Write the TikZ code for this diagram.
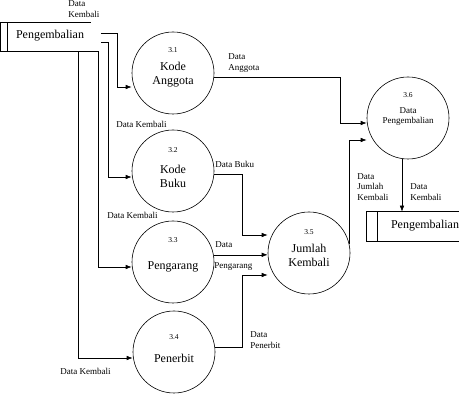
\documentclass[tikz,border=0pt]{standalone}
\usepackage{fontspec}
\setmainfont{Liberation Serif}
\usetikzlibrary{arrows.meta}
\begin{document}
\begin{tikzpicture}[x=1pt,y=-1pt,
  line width=0.6pt,
  proc/.style={circle,draw,minimum size=82pt,inner sep=0pt},
  frame/.style={rectangle,inner sep=0pt},
  num/.style={font=\fontsize{7.5}{8}\selectfont},
  pname/.style={font=\fontsize{12}{14}\selectfont,align=center},
  lbl/.style={font=\fontsize{9}{10.5}\selectfont,align=left,anchor=west,inner sep=0pt},
  flow/.style={-{Latex[length=6pt,width=4.5pt]}}]
\useasboundingbox (0,0) rectangle (459,406);
% stores
\node[frame,minimum width=90pt,minimum height=28pt] (s1) at (45.5,37) {};
\node[font=\fontsize{12}{14}\selectfont] (s1t) at (50,36) {Pengembalian};
\draw (s1.north east) -- (s1.north west) -- (s1.south west) -- (s1.south east);
\draw ([xshift=7pt]s1.north west) -- ([xshift=7pt]s1.south west);
\node[frame,minimum width=92pt,minimum height=29pt] (s2) at (413,226.5) {};
\node[font=\fontsize{12}{14}\selectfont] (s2t) at (425,226) {Pengembalian};
\draw (s2.north east) -- (s2.north west) -- (s2.south west) -- (s2.south east);
\draw ([xshift=11pt]s2.north west) -- ([xshift=11pt]s2.south west);
% processes
\node[proc] (c31) at (173,73) {};
\node[num] at ([yshift=23pt]c31.center) {3.1};
\node[pname] at ([yshift=-2pt]c31.center) {Kode\\Anggota};
\node[proc] (c32) at (173,171) {};
\node[num] at ([yshift=21pt]c32.center) {3.2};
\node[pname] at ([yshift=-5pt]c32.center) {Kode\\Buku};
\node[proc] (c33) at (173,262) {};
\node[num] at ([yshift=22pt]c33.center) {3.3};
\node[pname] at ([yshift=-5pt]c33.center) {Pengarang};
\node[proc] (c34) at (174,352) {};
\node[num] at ([yshift=15pt]c34.center) {3.4};
\node[pname] at ([yshift=-6pt]c34.center) {Penerbit};
\node[proc] (c35) at (309,253) {};
\node[num] at ([yshift=21pt]c35.center) {3.5};
\node[pname] at ([yshift=-2pt]c35.center) {Jumlah\\Kembali};
\node[proc] (c36) at (408,118) {};
\node[num] at ([yshift=23pt]c36.center) {3.6};
\node[font=\fontsize{9}{10}\selectfont,align=center] at ([yshift=1pt]c36.center) {Data\\Pengembalian};
% flows from store
\draw[flow] ([xshift=10pt,yshift=4pt]s1.east) -- ++(16,0) |- ([yshift=-14pt]c31.west);
\draw[flow] ([xshift=10pt,yshift=-5pt]s1.east) -- ++(7,0) |- ([yshift=-6pt]c32.west);
\draw[flow] (s1.south east) -- ++(7,0) |- ([yshift=-5pt]c33.west);
\draw[flow] ([xshift=33pt]s1.south) |- ([yshift=-6pt]c34.west);
% flows between processes
\coordinate (b1) at (340,123);
\draw[flow] (c31.-6) -| (b1) -- (b1 -| c36.west);
\draw[flow] (c32.-4) -- ++(28,0) |- ([yshift=18pt]c35.west);
\draw[flow] (c33.10) -- (c33.10 -| c35.west);
\draw[flow] (c34.6) -- ++(27,0) |- ([yshift=-22pt]c35.west);
\draw[flow] (c35.13) |- ([yshift=-22pt]c36.west);
\draw[flow] ([xshift=-6pt]c36.south) -- ([xshift=-6pt]c36.south |- s2.north);
% labels
\node[lbl] (l1) at (68,9) {Data\\Kembali};
\node[lbl] (l2) at (228,63) {Data\\Anggota};
\node[lbl] (l3) at (116,124) {Data Kembali};
\node[lbl] (l4) at (215,164) {Data Buku};
\node[lbl] (l5) at (107,215) {Data Kembali};
\node[lbl] (l6) at (215,245) {Data};
\node[lbl] (l7) at (214,267) {Pengarang};
\node[lbl] (l8) at (250,340) {Data\\Penerbit};
\node[lbl] (l9) at (60,371) {Data Kembali};
\node[lbl] (l10) at (357,187) {Data\\Jumlah\\Kembali};
\node[lbl] (l11) at (410,192) {Data\\Kembali};
\end{tikzpicture}
\end{document}
